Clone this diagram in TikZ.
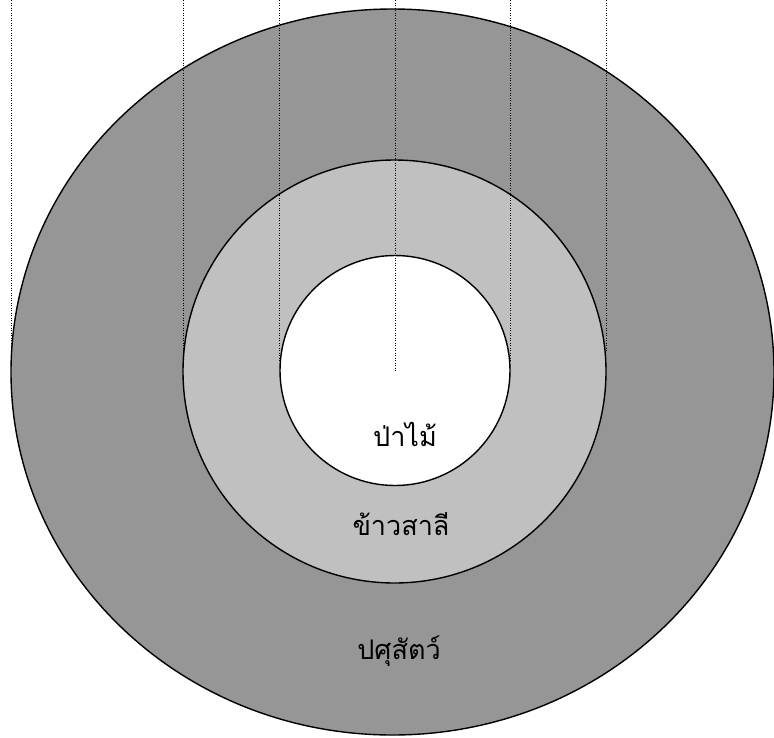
\documentclass[tikz,border=0pt]{standalone}
\usepackage{fontspec}
\newfontfamily\thaifont[Script=Thai]{Loma}
\definecolor{outergray}{RGB}{150,150,150}
\definecolor{midgray}{RGB}{192,192,192}
\begin{document}
\begin{tikzpicture}[x=1pt,y=-1pt,
  ring/.style={draw=black,line width=1.4pt},
  guide/.style={draw=black,line width=0.9pt,dash pattern=on 0.9pt off 1.6pt},
  lbl/.style={font=\thaifont\fontsize{27}{30}\selectfont,text=black,inner sep=0pt}]
\useasboundingbox (0,0) rectangle (774,737);
\fill[white] (0,0) rectangle (774,737);
\draw[ring,fill=outergray] (392.5,372) ellipse [x radius=381.5, y radius=363];
\draw[ring,fill=midgray] (394.5,371.5) circle [radius=211.5];
\draw[ring,fill=white] (395,370.5) circle [radius=115];
% guide lines
\coordinate (t1) at (11,0);   \coordinate (b1) at (11,358);
\coordinate (t2) at (183,0);  \coordinate (b2) at (183,360);
\coordinate (t3) at (279,0);  \coordinate (b3) at (279,362);
\coordinate (t4) at (395,0);  \coordinate (b4) at (395,372);
\coordinate (t5) at (510,0);  \coordinate (b5) at (510,362);
\coordinate (t6) at (606,0);  \coordinate (b6) at (606,352);
\foreach \i in {1,...,6} \draw[guide] (t\i) -- (b\i);
\node[lbl] (forest) at (405,434) {ป่าไม้};
\node[lbl] (wheat) at (401,524) {ข้าวสาลี};
\node[lbl] (livestock) at (399,651) {ปศุสัตว์};
\end{tikzpicture}
\end{document}
